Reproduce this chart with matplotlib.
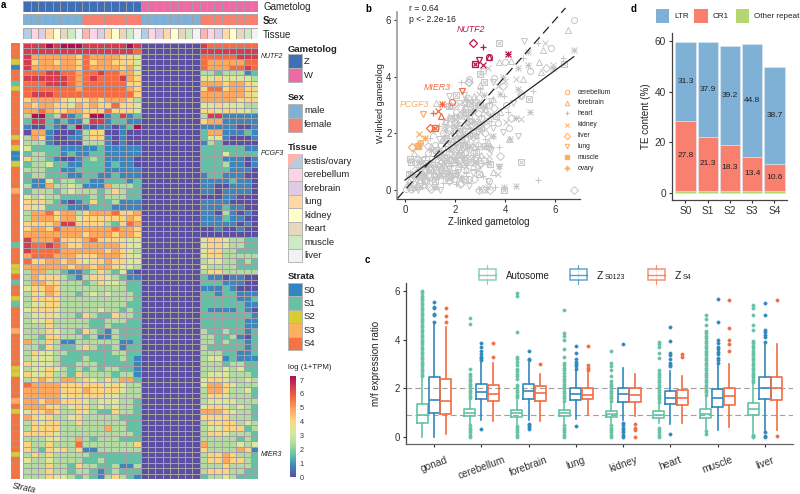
import numpy as np
import matplotlib
matplotlib.use("Agg")
import matplotlib.pyplot as plt
from matplotlib.patches import Rectangle, Polygon
from matplotlib.colors import Normalize, LinearSegmentedColormap

plt.rcParams['font.family'] = ['Liberation Sans', 'DejaVu Sans']
plt.rcParams['axes.linewidth'] = 0.9
plt.rcParams['xtick.major.width'] = 0.8
plt.rcParams['ytick.major.width'] = 0.8
plt.rcParams['xtick.color'] = '#333333'
plt.rcParams['ytick.color'] = '#333333'
plt.rcParams['text.color'] = '#222222'
plt.rcParams['axes.labelcolor'] = '#222222'

# ---- panel a: digit = colour step of the palette, 0 purple .. 9 dark red
heat_z = [
"8889899988888898", "8888888888888887", "8666666576666554", "8566566575665554",
"8666666576666564", "7778877677877664", "8888887678777865", "7778887677777755",
"7777777677777765", "7888777777777775", "5666654556566653", "6566554656557554",
"6676556655575554", "3992381259912812", "2882121138812211", "1002102910110129",
"0661000135500100", "3651001135510100", "3331000033310100", "4222211111211111",
"2332212112211111", "5332100123211110", "2334221122212110", "3332211222211111",
"2332221122112111", "2114233221122212", "3116334311163332", "2333234333235322",
"4343322223233322", "5553210125223111", "5442221112221111", "3667566356667556",
"3666566455555565", "5555688555532576", "5665766666667665", "6666666656665665",
"8666755567555444", "8778765566666544", "8777766666656543", "6777666555666544",
"7556656545565544", "6666665665665443", "3663321123532410", "3655532135543211",
"3665533323544322", "4556533333333322", "3546533234343332", "3555533333333332",
"3445533333333322", "4555433333433232", "3445433253225332", "3445333332233322",
"3335333332232222", "3335433253213222", "3325533323113222", "6335311333333112",
"3325322353223122", "3544332222223322", "3444322232222321", "5444322333222221",
"3445432323233221", "5445332533332331", "3565366354353662", "7666655555545433",
"6666655565555433", "6666645555544333", "6656655543444332", "6665534553434332",
"4556533543225332", "6545334533333222", "3545533533333322", "3555533333363322",
"5555433333333332", "3334433632333222", "5335333733333335", "5325453511333333",
"3535333332222222", "4334333322322222", "3335332533223113", "3335332332123222",
"3335443232135321",
]
heat_wm = ["00000000"] * 81
heat_wf = [
"87777777", "88888888", "77777888", "76666677", "76667787", "33233312", "44544443",
"66656654", "57756655", "66666654", "66666555", "44544433", "55455443", "38811111",
"56611111", "11111001", "26611121", "24410001", "13200000", "22222211", "22242222",
"22211101", "22231101", "22221110", "12211100", "11112110", "11001110", "11011110",
"00011000", "11110000", "11121100", "11031010", "11121100", "11111010", "00100100",
"00000000", "45543322", "45543322", "45533222", "45533333", "34433232", "43333222",
"35533333", "21101100", "22211100", "11121000", "22122111", "22222112", "22222211",
"21111210", "22222221", "22222211", "22222211", "32232212", "33223102", "33232212",
"32222212", "33322112", "34412111", "33323322", "33343422", "34443332", "45543343",
"46654333", "36653342", "35543332", "34444333", "45543432", "66654332", "55553332",
"35555343", "34455523", "35543332", "33333232", "63333434", "53333651", "35565332",
"35565532", "33353332", "35553322", "23343222",
]
palette = ["#5b4ea3", "#3e86bd", "#66c2a5", "#b4dca2", "#dce79c", "#fdd680", "#fca85f", "#f46d43", "#d53e4f", "#a8124f"]
strata_rows = ("444" "2" "0" "44" "1" "2" "44444444" "2" "4" "2" "00" "2" "4444" "3"
               "444444444" "1" "444" "22" "4" "1" "44" "2" "1" "4444" "3" "444444" "22"
               "4444" "3" "4" "2" "4444444" "2" "4444")
gametolog_levels = ["Z", "W"]
gametolog_colors = ["#3f6fb5", "#ee6aa7"]
sex_levels = ["male", "female"]
sex_colors = ["#7fb1d6", "#f9806f"]
tissue_levels = ["testis/ovary", "cerebellum", "forebrain", "lung", "kidney", "heart", "muscle", "liver"]
testis_color = "#b3cde3"
ovary_color = "#fbb4ae"
tissue_colors = [testis_color, "#fcd5e5", "#decbe4", "#fed9a6", "#ffffcc", "#e5d8bd", "#ccebc5", "#f2f2f2"]
strata_levels = ["S0", "S1", "S2", "S3", "S4"]
strata_colors = ["#2f86c0", "#66c2a5", "#d6cd2e", "#fdae61", "#f6733f"]
gene_labels = {"NUTF2": 2, "PCGF3": 20, "MIER3": 76}

# ---- panel b
cerebellum_pts = [(6.75,6.0),(5.85,5.0),(5.0,4.2),(4.0,4.5),(3.1,4.2),(3.55,3.95),(2.55,3.9),(2.5,3.25),(2.8,3.1),(3.35,3.0),
    (2.9,2.7),(2.35,2.6),(1.8,2.55),(2.2,2.2),(1.5,2.0),(1.9,1.7),(2.55,1.95),(3.0,2.3),(3.7,2.35),(4.05,3.0),(4.15,2.2),
    (1.2,1.6),(0.9,1.3),(1.4,1.15),(1.85,1.1),(2.4,1.3),(2.9,1.6),(3.35,0.3),(0.45,0.6),(0.7,0.9),(1.1,0.4),(1.6,0.55),
    (2.1,0.75),(2.55,0.4),(0.2,0.1),(0.05,0.05),(3.05,0.95),(4.65,3.3),
    (1.65,1.35),(2.05,1.45),(2.3,1.7),(2.65,2.3),(1.35,0.8),(1.95,0.4),(2.2,1.05),(2.75,1.1),(3.2,2.0),(0.6,0.35),(1.05,0.75),
    (2.45,2.85),(2.05,2.75),(3.25,2.45),(1.7,0.95),(0.35,0.2),(2.9,3.0),(1.75,2.2)]
forebrain_pts = [(6.5,5.65),(5.5,4.95),(5.35,4.5),(5.45,4.15),(3.75,4.5),(4.25,4.55),(3.5,3.2),(4.7,3.9),(1.25,3.05),(1.85,3.0),
    (2.3,2.85),(2.75,3.3),(3.2,2.85),(3.0,3.7),(4.15,1.8),(3.5,0.65),(2.45,2.3),(1.6,2.45),(1.05,1.55),(1.5,1.75),(2.05,1.85),
    (2.75,1.5),(0.9,0.7),(0.55,1.1),(0.35,1.3),(1.3,0.9),(1.75,0.35),(2.3,1.0),(2.7,0.85),(3.05,1.25),(0.15,0.3),(0.75,0.2),
    (1.25,0.15),(3.8,2.75),
    (1.45,1.05),(1.9,1.25),(2.2,1.4),(2.5,1.65),(2.85,1.95),(1.2,0.55),(1.6,0.8),(2.0,0.55),(2.45,0.75),(0.6,0.5),(2.1,2.3),
    (2.6,2.6),(2.95,2.45),(1.8,1.95),(0.95,1.0),(3.3,1.7),(2.35,3.1),(0.4,0.1)]
heart_pts = [(5.3,0.35),(5.3,5.2),(6.3,4.65),(5.1,3.5),(3.95,3.3),(2.25,3.8),(4.7,4.65),(3.0,3.55),(3.35,3.05),(2.6,2.75),
    (2.1,2.4),(1.7,2.95),(1.35,2.25),(2.85,2.2),(3.45,2.45),(1.0,1.85),(1.6,1.55),(2.2,1.6),(2.7,1.25),(3.2,1.8),(0.8,1.2),
    (1.2,1.0),(1.85,0.85),(2.45,0.6),(3.1,0.5),(0.5,0.75),(0.95,0.35),(1.5,0.25),(2.05,0.2),(0.3,0.3),(3.75,1.5),(4.1,2.75),
    (2.95,0.05),(3.6,0.1),(1.45,1.35),(2.5,1.9),
    (1.75,1.15),(2.05,1.05),(2.35,1.25),(2.9,1.55),(1.35,0.7),(1.65,0.55),(2.25,0.8),(2.6,2.15),(2.3,2.75),(1.9,2.0),(0.7,0.6),
    (1.1,0.6),(3.05,2.6),(2.8,3.2),(1.55,1.9),(0.2,0.65)]
kidney_pts = [(5.6,5.2),(5.9,4.4),(3.3,4.3),(4.05,2.4),(4.65,2.5),(4.0,3.85),(3.7,3.65),(4.45,3.9),(2.95,3.4),(2.55,3.15),
    (3.25,2.7),(2.05,2.95),(1.85,2.6),(1.55,2.25),(2.35,2.05),(2.85,1.85),(3.35,1.2),(3.7,0.55),(3.3,0.1),(0.6,0.45),(1.05,0.95),
    (1.4,1.45),(1.9,1.3),(2.4,1.45),(1.3,0.55),(1.75,0.7),(2.2,0.35),(2.9,0.75),(0.4,0.85),(0.8,0.55),(0.15,0.2),(3.1,1.5),
    (2.6,2.35),(1.1,2.05),(1.95,2.15),
    (1.6,1.1),(2.15,1.15),(2.55,1.2),(1.25,0.85),(1.85,0.45),(2.45,0.85),(2.75,1.6),(2.2,1.85),(1.65,1.7),(2.05,2.5),(2.75,2.7),
    (3.0,2.05),(0.95,0.65),(0.65,0.15),(3.45,1.9),(2.4,3.0)]
liver_pts = [(6.75,0.0),(5.65,4.3),(2.55,3.8),(2.5,3.8),(3.9,3.65),(4.65,3.4),(4.25,2.55),(3.55,2.9),(3.4,0.0),(2.95,0.0),
    (3.1,0.05),(2.25,0.25),(2.2,0.2),(1.05,0.05),(0.95,0.1),(0.1,0.15),(0.25,0.05),(0.6,0.25),(2.75,0.4),(1.6,0.9),(2.0,1.35),
    (2.6,1.7),(3.15,1.05),(2.2,2.65),(1.75,2.1),(1.3,1.3),(0.9,1.55),(0.5,1.1),(3.05,2.55),(2.7,3.0),(3.8,1.2),(3.35,1.5),
    (1.55,0.6),(2.45,1.05),(0.75,0.65),
    (1.85,1.05),(2.15,1.5),(2.35,0.9),(1.45,1.6),(1.95,1.75),(2.5,2.2),(2.85,1.15),(1.15,0.5),(0.8,0.3),(1.75,0.3),(2.45,2.7),
    (2.9,2.3),(2.0,2.35),(3.25,2.3)]
lung_pts = [(4.75,5.25),(4.5,1.9),(3.35,1.45),(3.45,1.4),(3.75,0.8),(3.25,0.0),(3.3,0.3),(2.4,0.95),(2.85,1.05),(1.4,0.0),
    (1.05,1.1),(1.55,1.3),(2.0,1.05),(2.45,2.5),(2.8,2.9),(3.45,3.15),(3.5,3.8),(3.9,2.05),(4.3,3.05),(2.15,3.05),(1.75,3.3),
    (1.35,1.8),(0.7,1.05),(0.4,0.45),(0.85,0.3),(1.3,0.45),(1.9,0.5),(2.35,1.55),(2.9,2.05),(3.0,0.85),(2.55,0.15),(0.5,0.0),
    (3.5,2.2),(1.95,1.9),(1.65,2.35),
    (1.7,0.85),(2.25,1.3),(2.6,1.4),(1.15,0.75),(1.5,0.5),(2.1,0.65),(2.7,0.6),(2.2,2.15),(2.65,1.9),(1.85,1.6),(3.1,2.85),(0.6,0.7),
    (0.3,0.05),(2.35,3.35)]
muscle_pts = [(3.75,5.2),(6.35,4.45),(4.95,3.2),(4.65,1.0),(3.95,0.0),(0.2,1.1),(0.25,1.0),(0.15,0.55),(2.05,3.35),(1.75,2.95),
    (2.6,3.05),(3.0,4.1),(3.15,3.8),(2.4,2.75),(3.05,2.2),(3.2,1.55),(2.85,1.35),(2.25,1.8),(1.65,1.85),(1.25,1.4),(0.85,0.95),
    (1.45,0.75),(2.0,0.6),(2.6,1.0),(2.95,0.55),(3.4,0.9),(0.55,0.15),(1.0,0.7),(3.65,2.6),(2.15,1.25),(1.85,2.55),(3.0,3.0),
    (1.55,1.15),(1.95,1.0),(2.35,1.6),(2.7,2.0),(1.2,0.3),(1.7,0.45),(2.4,0.4),(2.55,2.45),(2.15,2.05),(0.65,0.55)]
ovary_pts = [(6.75,4.95),(4.9,4.85),(4.9,4.4),(5.9,4.3),(4.5,4.3),(3.9,4.0),(4.5,3.55),(5.0,2.75),(4.45,2.55),(4.2,1.8),
    (4.45,0.15),(3.95,0.1),(3.75,0.85),(3.3,1.0),(3.5,1.9),(2.95,3.1),(2.45,3.2),(3.15,3.35),(2.1,2.6),(1.6,2.1),(1.05,1.4),
    (0.6,0.95),(0.55,1.0),(1.3,1.15),(1.8,1.45),(2.35,1.15),(2.75,2.45),(0.35,0.5),(0.85,0.85),(1.55,0.95),(1.2,0.1),(2.1,0.95),
    (3.4,2.65),(3.8,3.4),(2.05,1.6),
    (1.75,0.65),(2.25,0.45),(2.55,1.5),(2.85,0.95),(1.35,0.5),(2.3,1.95),(2.7,2.85),(1.95,2.3),(3.2,2.95),(0.8,0.45)]
scatter_tissues = ["cerebellum", "forebrain", "heart", "kidney", "liver", "lung", "muscle", "ovary"]
scatter_sets = [cerebellum_pts, forebrain_pts, heart_pts, kidney_pts, liver_pts, lung_pts, muscle_pts, ovary_pts]
scatter_markers = ["o", "^", "+", "x", "D", "v", "sx", "+x"]
nutf2_pts = [(3.37,4.7),(3.37,4.7),(3.13,5.05),(3.13,4.42),(2.73,5.2),(2.97,4.6),(2.8,4.43),(4.1,4.8)]
mier3_pts = [(1.87,3.1),(1.43,2.6),(1.13,2.73),(1.33,2.78),(1.0,2.17),(2.27,3.5),(1.2,2.2),(1.47,3.03)]
pcgf3_pts = [(0.6,1.65),(0.5,1.6),(0.6,1.65),(0.57,1.97),(0.27,1.5),(0.73,2.67),(0.5,1.55),(0.8,1.85)]
nutf2_col = "#b5184f"
mier3_col = "#f46d43"
pcgf3_col = "#fdae61"
fit_x = [0.0, 6.75]
fit_y = [0.35, 4.7]
identity = [-0.3, 6.42]

# ---- panel c
box_tissues = ["gonad", "cerebellum", "forebrain", "lung", "kidney", "heart", "muscle", "liver"]
auto_q1 = [0.57, 0.86, 0.83, 0.87, 0.85, 0.78, 0.78, 0.90]
auto_med = [0.90, 1.00, 0.98, 0.98, 0.97, 0.93, 0.97, 1.15]
auto_q3 = [1.35, 1.15, 1.13, 1.10, 1.08, 1.06, 1.15, 1.42]
auto_lo = [0.03, 0.55, 0.50, 0.58, 0.60, 0.60, 0.30, 0.16]
auto_hi = [2.50, 1.55, 1.60, 1.45, 1.45, 1.40, 1.70, 2.20]
auto_fl = [
    [2.5,2.6,2.7,2.8,2.9,3.0,3.1,3.2,3.3,3.4,3.5,3.6,3.7,3.8,3.9,4.0,4.1,4.2,4.3,4.4,4.5,4.6,4.7,4.8,4.9,5.0,5.1,5.2,5.3,5.4,5.5,5.6,5.7,5.8,5.9,6.0],
    [0.0,0.1,0.2,0.3,0.4,0.5,1.6,1.7,1.8,1.9,2.0,2.1,2.2,2.3,2.4,2.5,2.6,2.8,4.65,4.9],
    [0.03,0.1,0.2,0.3,0.4,0.45,1.65,1.75,1.85,1.95,2.05,2.15,2.4,2.5,2.6,2.7,2.8,2.95,3.1,3.2,3.3,4.3,5.8,5.9],
    [0.03,0.1,0.2,0.3,0.4,0.5,1.5,1.6,1.7,1.8,1.9,2.0,2.1,2.2,2.3,2.4,2.5,2.65,2.75,2.85,2.95,3.05,3.3,3.6,4.0,4.15,4.25,5.2],
    [0.03,0.1,0.2,0.3,0.4,0.5,1.5,1.6,1.7,1.8,1.9,2.0,2.1,2.2,2.3,2.5,2.75,2.9,3.05,3.55],
    [0.03,0.1,0.2,0.3,0.4,1.45,1.55,1.65,1.75,1.85,1.95,2.05,2.15,2.25,2.35,2.45,2.55,2.65,2.75,3.25,3.45,3.7,3.8,3.9],
    [0.15,0.25,1.75,1.85,1.95,2.05,2.15,2.25,2.35,2.45,2.55,2.65,2.75,2.85,2.95,3.05,3.15,3.25,3.35,3.45,3.55,3.65,3.75,3.85,3.95,4.05,4.15,4.25,4.35,4.6,4.85,5.0],
    [0.0,0.05,0.1,2.25,2.35,2.45,2.55,2.65,2.75,2.85,2.95,3.05,3.15,3.25,3.35,3.45,3.55,3.65,3.75,3.85,3.95,4.4,4.6,5.0,5.3,5.4],
]
z_q1 = [1.00, 1.55, 1.58, 1.51, 1.45, 1.38, 1.26, 1.58]
z_med = [1.54, 1.86, 1.88, 1.77, 1.79, 1.62, 1.62, 2.03]
z_q3 = [2.48, 2.18, 2.18, 2.03, 2.03, 1.91, 1.98, 2.48]
z_lo = [0.03, 0.70, 0.70, 0.73, 0.70, 0.55, 0.30, 0.25]
z_hi = [4.70, 3.10, 3.05, 2.75, 2.85, 2.70, 3.00, 3.85]
z_fl = [
    [4.7,5.0,5.05,5.3,5.35,5.55],
    [0.33,3.15,3.25,3.3,3.4,3.55,3.7,3.85],
    [0.35,0.42,0.5,0.55,3.15,3.22,3.52],
    [0.46,2.8,2.9,3.0,3.1,3.2,3.44,3.75],
    [0.03,0.1,0.2,0.3,0.4,0.5,0.6,3.82],
    [0.13,2.9,2.95,3.05,3.2,3.35,3.45,3.94,4.5],
    [3.05,3.15,3.25,3.4,3.5,3.6,3.7,3.85,4.0,4.7,5.65],
    [0.03,0.05,0.22,3.9,4.1,4.2,4.3,4.4,5.0,5.5],
]
s4_q1 = [0.94, 1.47, 1.50, 1.55, 1.43, 1.31, 1.31, 1.53]
s4_med = [1.47, 1.77, 1.80, 1.73, 1.73, 1.60, 1.69, 2.00]
s4_q3 = [2.40, 2.13, 2.10, 2.00, 2.00, 1.94, 2.00, 2.48]
s4_lo = [0.12, 0.68, 0.68, 0.90, 0.88, 0.60, 0.42, 0.30]
s4_hi = [4.50, 3.05, 2.60, 2.70, 2.60, 2.50, 2.98, 3.80]
s4_fl = [
    [4.7,4.95,5.3], [3.3,3.85], [3.0], [2.75,2.85,2.95,3.75],
    [0.03,0.3,0.4,0.55], [3.3,3.4], [3.53,3.8,3.97,4.46,5.63], [0.05,5.6],
]
auto_col = "#66c2a5"
z_col = "#3288bd"
s4_col = "#f46d43"
ratio_lines = [2.0, 0.93]

# ---- panel d
strata_names = ["S0", "S1", "S2", "S3", "S4"]
other_vals = [0.7, 0.7, 0.7, 0.7, 0.7]
cr1_vals = [27.8, 21.3, 18.3, 13.4, 10.6]
ltr_vals = [31.3, 37.9, 39.2, 44.8, 38.7]
ltr_col = "#7fb1d6"
cr1_col = "#f9806f"
other_col = "#b3d66f"


def ax_px(x0, y0, x1, y1):
    return fig.add_axes([x0 / 800, 1 - y1 / 494, (x1 - x0) / 800, (y1 - y0) / 494])


fig = plt.figure(figsize=(8, 4.94), dpi=100)
over = fig.add_axes([0, 0, 1, 1], zorder=5)
over.set_xlim(0, 800)
over.set_ylim(494, 0)
over.axis("off")
over.patch.set_alpha(0)


def otext(x, y, s, **kw):
    kw.setdefault("va", "center")
    kw.setdefault("ha", "left")
    kw.setdefault("fontsize", 7)
    over.text(x, y, s, **kw)


def swatch(x, y, w, h, col):
    over.add_patch(Rectangle((x, y), w, h, fc=col, ec="#b5b5b5", lw=0.7))


# panel a heatmap
cmap = LinearSegmentedColormap.from_list("heat", palette)
matrix = np.array([[int(c) for c in z + m + f] for z, m, f in zip(heat_z, heat_wm, heat_wf)])
grid = "#a39fa3"
ax = ax_px(23.3, 43, 258.3, 479)
ax.pcolormesh(matrix, cmap=cmap, vmin=0, vmax=9, edgecolors=grid, linewidth=0.6)
ax.set_ylim(matrix.shape[0], 0)
ax.axis("off")

for name, row in gene_labels.items():
    ax.annotate(name, (32, row + 0.5), xytext=(2, 0), textcoords="offset points", va="center",
                fontsize=5, style="italic", annotation_clip=False)

# annotation strips
top_gam = [0] * 16 + [1] * 16
top_sex = ([0] * 8 + [1] * 8) * 2
top_tis = list(range(8)) * 4
for (y0, y1, idx, cols) in [(1.5, 12, top_gam, gametolog_colors), (14, 25, top_sex, sex_colors)]:
    a = ax_px(23.3, y0, 258.3, y1)
    for i, k in enumerate(idx):
        a.bar(i, 1, 1, align="edge", color=cols[k], edgecolor=grid, linewidth=0.6)
    a.set_xlim(0, 32)
    a.set_ylim(0, 1)
    a.axis("off")
a = ax_px(23.3, 27.5, 258.3, 39)
for i, k in enumerate(top_tis):
    col = tissue_colors[k]
    if k == 0 and i >= 16:
        col = testis_color if i == 16 else ovary_color
    elif k == 0:
        col = testis_color if i == 0 else ovary_color
    a.bar(i, 1, 1, align="edge", color=col, edgecolor=grid, linewidth=0.6)
a.set_xlim(0, 32)
a.set_ylim(0, 1)
a.axis("off")
otext(263, 7, "Gametolog")
otext(263, 21, "S", fontweight="bold")
otext(268, 21, "ex")
otext(263, 35, "Tissue")

# strata column
a = ax_px(10.5, 43, 19.5, 479)
for i, c in enumerate(strata_rows):
    a.bar(0, 1, 1, bottom=i, align="edge", color=strata_colors[int(c)], edgecolor=grid, linewidth=0.3)
a.set_xlim(0, 1)
a.set_ylim(len(strata_rows), 0)
a.axis("off")
otext(11, 488, "Strata", rotation=-12, style="italic", fontsize=6.5)

# legends of a
otext(288, 50, "Gametolog", fontweight="bold", fontsize=6.8)
for i, s in enumerate(gametolog_levels):
    swatch(288, 54.5 + i * 14, 14, 14, gametolog_colors[i])
    otext(304, 62 + i * 14, s, fontsize=6.8)
otext(288, 97, "Sex", fontweight="bold", fontsize=6.8)
for i, s in enumerate(sex_levels):
    swatch(288, 103.5 + i * 14, 14, 14, sex_colors[i])
    otext(304, 110.5 + i * 14, s, fontsize=6.8)
otext(288, 147, "Tissue", fontweight="bold", fontsize=6.8)
for i, s in enumerate(tissue_levels):
    swatch(288, 154 + i * 13.5, 14, 13.5, tissue_colors[i])
    otext(304, 161 + i * 13.5, s, fontsize=6.8)
over.add_patch(Polygon([(302, 154), (302, 167.5), (288, 167.5)], fc=testis_color, ec="none"))
over.add_patch(Polygon([(288, 154), (302, 154), (288, 167.5)], fc=ovary_color, ec="none"))
otext(288, 276, "Strata", fontweight="bold", fontsize=6.8)
for i, s in enumerate(strata_levels):
    swatch(288, 283 + i * 13.4, 14, 13.4, strata_colors[i])
    otext(304, 290 + i * 13.4, s, fontsize=6.8)
otext(288, 367.5, "log (1+TPM)", fontsize=5.7)
cax = ax_px(290, 376, 296, 477)
cb = fig.colorbar(plt.cm.ScalarMappable(norm=Normalize(0, 7.3), cmap=cmap), cax=cax)
cb.set_ticks(range(8))
cb.ax.tick_params(labelsize=5.2, length=0, pad=2.5)
cb.outline.set_visible(False)

# panel b
axb = ax_px(397, 8, 580, 199)
axb.set_xlim(-0.32, 7.0)
axb.set_ylim(-0.32, 6.42)
gray_pt = "#c6c6c6"


def draw_pts(a, pts, mark, col, ms=4.3, mew=0.7, z=2):
    xs = [p[0] for p in pts]
    ys = [p[1] for p in pts]
    if mark == "sx":
        a.plot(xs, ys, ls="", marker="s", ms=ms - 0.6, mfc="none", mec=col, mew=mew, zorder=z, clip_on=False)
        a.plot(xs, ys, ls="", marker="x", ms=ms - 0.9, mfc="none", mec=col, mew=mew, zorder=z, clip_on=False)
    elif mark == "+x":
        a.plot(xs, ys, ls="", marker="+", ms=ms + 0.5, mec=col, mew=mew, zorder=z, clip_on=False)
        a.plot(xs, ys, ls="", marker="x", ms=ms - 0.3, mec=col, mew=mew, zorder=z, clip_on=False)
    else:
        a.plot(xs, ys, ls="", marker=mark, ms=ms, mfc="none", mec=col, mew=mew, zorder=z, clip_on=False)


for pts, mk in zip(scatter_sets, scatter_markers):
    draw_pts(axb, pts, mk, gray_pt)
for i, mk in enumerate(scatter_markers):
    draw_pts(axb, [nutf2_pts[i]], mk, nutf2_col, mew=0.9, z=4)
    draw_pts(axb, [mier3_pts[i]], mk, mier3_col, mew=0.9, z=4)
    draw_pts(axb, [pcgf3_pts[i]], mk, pcgf3_col, mew=0.9, z=4)
axb.plot(fit_x, fit_y, color="#222222", lw=0.9, zorder=3)
axb.plot(identity, identity, color="#222222", lw=0.9, dashes=(7, 4), zorder=3, clip_on=False)
axb.text(0.16, 6.4, "r = 0.64", fontsize=6.2, va="center")
axb.text(0.16, 6.02, "p <- 2.2e-16", fontsize=6.2, va="center")
axb.text(2.64, 5.65, "NUTF2", color=nutf2_col, style="italic", fontsize=6.4, ha="center", va="center")
axb.text(1.28, 3.6, "MIER3", color=mier3_col, style="italic", fontsize=6.4, ha="center", va="center")
axb.text(0.36, 3.0, "PCGF3", color=pcgf3_col, style="italic", fontsize=6.4, ha="center", va="center")
axb.spines[["top", "right"]].set_visible(False)
axb.spines["left"].set_color("#999999")
axb.spines["left"].set_linewidth(1.2)
axb.spines["left"].set_bounds(-0.32, 6.28)
axb.spines["bottom"].set_color("#444444")
axb.set_xticks([0, 2, 4, 6])
axb.set_yticks([0, 2, 4, 6])
axb.tick_params(labelsize=7, length=2.5, pad=1.5)
axb.set_xlabel("Z-linked gametolog", fontsize=6.9, labelpad=2)
axb.set_ylabel("W-linked gametolog", fontsize=6.5, labelpad=1)
for i, s in enumerate(scatter_tissues):
    ly = [92, 102.6, 113.3, 124.7, 135.7, 146, 157.3, 168.3][i]
    otext(578, ly, s, fontsize=4.9)
    mk = scatter_markers[i]
    if mk == "sx":
        over.plot([567], [ly], marker="s", ms=3, color=pcgf3_col, ls="")
    elif mk == "+x":
        over.plot([567], [ly], marker="+", ms=4, color=pcgf3_col, ls="", mew=0.7)
        over.plot([567], [ly], marker="x", ms=3.2, color=pcgf3_col, ls="", mew=0.7)
    else:
        over.plot([567], [ly], marker=mk, ms=3.2, mfc="none", mec=pcgf3_col, ls="", mew=0.7)
over.set_xlim(0, 800)
over.set_ylim(494, 0)

# panel c
axc = ax_px(405.7, 283.3, 792.7, 444.3)
axc.set_xlim(0.4, 8.587)
axc.set_ylim(-0.285, 6.3)
for v in ratio_lines:
    axc.axhline(v, color="#a0a0a0", lw=0.8, dashes=(5, 3), zorder=0)


def draw_boxes(off, q1, med, q3, lo, hi, fl, col):
    stats = []
    for i in range(len(q1)):
        stats.append({"q1": q1[i], "med": med[i], "q3": q3[i], "whislo": lo[i], "whishi": hi[i], "fliers": fl[i]})
    pos = [i + 1 + off for i in range(len(q1))]
    axc.bxp(stats, positions=pos, widths=0.235, showcaps=False,
            boxprops=dict(color=col, lw=1.2), medianprops=dict(color=col, lw=1.2),
            whiskerprops=dict(color=col, lw=1.2),
            flierprops=dict(marker="o", ms=2.4, mfc=col, mec=col, mew=0.3), manage_ticks=False)


draw_boxes(-0.25, auto_q1, auto_med, auto_q3, auto_lo, auto_hi, auto_fl, auto_col)
draw_boxes(0, z_q1, z_med, z_q3, z_lo, z_hi, z_fl, z_col)
draw_boxes(0.25, s4_q1, s4_med, s4_q3, s4_lo, s4_hi, s4_fl, s4_col)
axc.spines[["top", "right"]].set_visible(False)
axc.spines["left"].set_color("#444444")
axc.spines["bottom"].set_color("#666666")
axc.set_yticks([0, 2, 4, 6])
axc.set_xticks(range(1, 9))
axc.set_xticklabels(box_tissues, rotation=20, ha="center", rotation_mode="default")
axc.tick_params(axis="y", labelsize=7, length=2.5, pad=1.5)
axc.tick_params(axis="x", labelsize=7.3, length=2.5, pad=5)
axc.set_ylabel("m/f expression ratio", fontsize=7, labelpad=10)


def box_key(x, col):
    over.plot([x + 8.4, x + 8.4], [265, 284], color=col, lw=0.8, alpha=0.75)
    over.add_patch(Rectangle((x, 269), 16.8, 11, fc="white", ec=col, lw=1.1, alpha=0.75, zorder=3))
    over.plot([x, x + 16.8], [274.5, 274.5], color=col, lw=1.0, alpha=0.8, zorder=4)


box_key(479, auto_col)
box_key(570, z_col)
box_key(648, s4_col)
otext(506, 276, "Autosome", fontsize=7)
otext(596.5, 276, "Z", fontsize=7.5)
otext(604.5, 277, "S0123", fontsize=5)
otext(674.5, 276, "Z", fontsize=7.5)
otext(682.5, 277, "S4", fontsize=5)

# panel d
axd = ax_px(671.7, 33, 787.3, 200.3)
axd.set_xlim(-0.62, 4.58)
axd.set_ylim(-3.05, 63.3)
xpos = np.arange(len(strata_names))
other = np.array(other_vals)
cr1 = np.array(cr1_vals)
ltr = np.array(ltr_vals)
edge = "#dfe8ef"
axd.bar(xpos, other, 0.91, color=other_col, edgecolor=edge, linewidth=0.4)
axd.bar(xpos, cr1, 0.91, bottom=other, color=cr1_col, edgecolor=edge, linewidth=0.4)
axd.bar(xpos, ltr, 0.91, bottom=other + cr1, color=ltr_col, edgecolor=edge, linewidth=0.4)
for i in xpos:
    axd.text(i, other[i] + cr1[i] / 2, "%.1f" % cr1[i], ha="center", va="center", fontsize=6)
    axd.text(i, other[i] + cr1[i] + ltr[i] / 2, "%.1f" % ltr[i], ha="center", va="center", fontsize=6)
axd.spines[["top", "right"]].set_visible(False)
axd.spines["left"].set_color("#444444")
axd.spines["bottom"].set_color("#444444")
axd.set_xticks(xpos)
axd.set_xticklabels(strata_names)
axd.set_yticks([0, 20, 40, 60])
axd.tick_params(labelsize=7.3, length=2.5, pad=1.5)
axd.set_ylabel("TE content (%)", fontsize=7.1, labelpad=3)
for x0, tx, s, col in [(656, 674, "LTR", ltr_col), (694.3, 712.7, "CR1", cr1_col), (736, 754, "Other repeat", other_col)]:
    over.add_patch(Rectangle((x0, 9.3), 13.3, 13.4, fc=col, ec="none"))
    otext(tx, 16, s, fontsize=5.9)

# panel letters
for x, y, s in [(1, 4.5, "a"), (365, 9, "b"), (365, 260, "c"), (631, 9, "d")]:
    otext(x, y, s, fontweight="bold", fontsize=7, color="black")

fig.savefig("out.png", dpi=100)
